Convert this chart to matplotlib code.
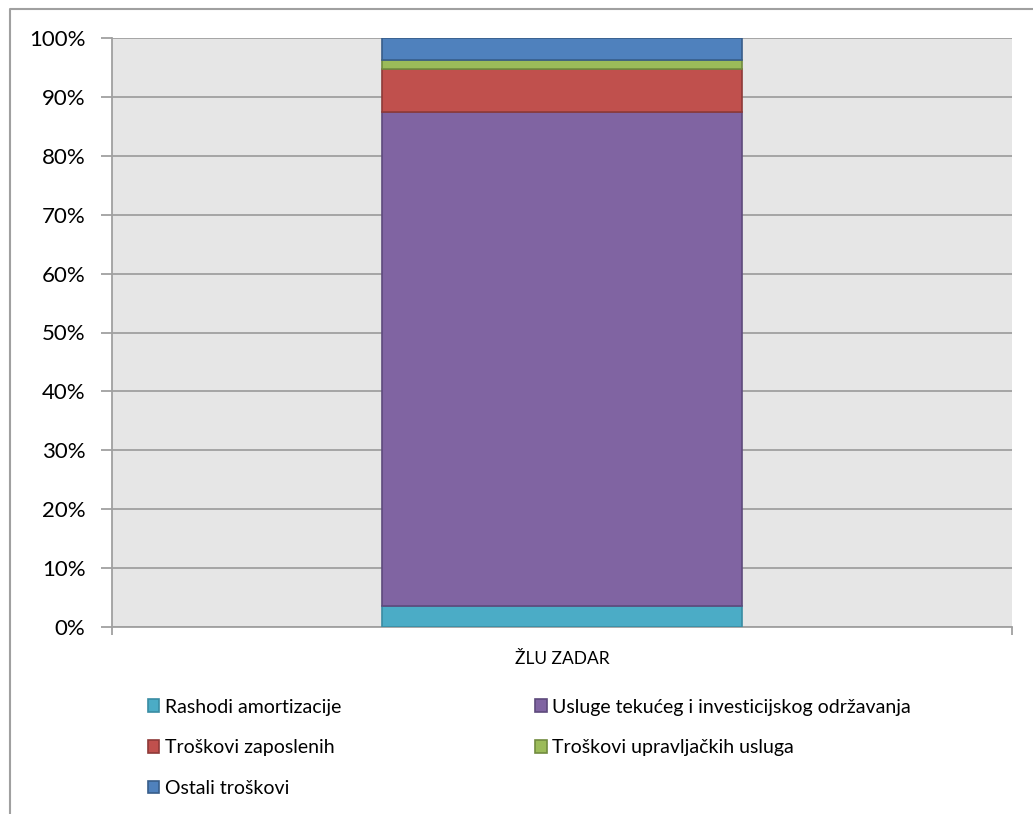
import numpy as np
import matplotlib
matplotlib.use("Agg")
import matplotlib.pyplot as plt
from matplotlib.lines import Line2D
from matplotlib.ticker import FuncFormatter

plt.rcParams['font.family'] = ['Lato', 'DejaVu Sans']

# data (share of total, %)
category = ["ŽLU ZADAR"]
series_names = ["Rashodi amortizacije",
                "Usluge tekućeg i investicijskog održavanja",
                "Troškovi zaposlenih",
                "Troškovi upravljačkih usluga",
                "Ostali troškovi"]
series_values = [3.6, 83.8, 7.4, 1.5, 3.7]
colors = ["#4BACC6", "#8064A2", "#C0504D", "#9BBB59", "#4F81BD"]
edges = ["#3A8CA3", "#5E4A7C", "#8E3A38", "#718B3F", "#385D8A"]

W, H = 1033, 814
fig = plt.figure(figsize=(W / 100, H / 100), dpi=100)
ax = fig.add_axes([112/W, 1-627/H, 900/W, 589/H])
ax.set_facecolor("#E6E6E6")

# chart border (left and top edges only visible)
fig.lines.append(Line2D([10/W, 10/W, 1.0], [0.0, 1-9/H, 1-9/H], transform=fig.transFigure,
                        color="#A0A0A0", linewidth=1.5))

x = np.arange(len(category))
bottom = np.zeros(len(category))
handles = []
for name, val, c, e in zip(series_names, series_values, colors, edges):
    b = ax.bar(x, [val], width=0.4, bottom=bottom, color=c, edgecolor=e,
               linewidth=1.2, label=name, zorder=3)
    handles.append(b)
    bottom += val

ax.set_xlim(-0.5, 0.5)
ax.set_ylim(0, 100)
ax.set_yticks(np.arange(0, 101, 10))
ax.yaxis.set_major_formatter(FuncFormatter(lambda v, p: f"{int(v)}%"))
ax.grid(axis="y", color="#A0A0A0", linewidth=1.3, zorder=1)
ax.set_axisbelow(True)

ax.set_xticks(x)
ax.set_xticklabels(category, fontsize=12.5)
ax.set_xticks([-0.5, 0.5], minor=True)
ax.tick_params(axis="x", which="major", length=0, pad=17)
ax.tick_params(axis="x", which="minor", length=6, color="#A0A0A0", width=1.3)
ax.tick_params(axis="y", length=8, color="#A0A0A0", width=1.3, labelsize=16, pad=11)

for s in ["top", "right"]:
    ax.spines[s].set_visible(False)
for s in ["left", "bottom"]:
    ax.spines[s].set_color("#A0A0A0")
    ax.spines[s].set_linewidth(1.3)

order = [0, 2, 4, 1, 3]
fig.legend([handles[i] for i in order], [series_names[i] for i in order],
           loc="upper left", bbox_to_anchor=(130/W, 1-681/H), ncol=2,
           frameon=False, fontsize=14, handlelength=0.6, handleheight=0.6,
           handletextpad=0.3, columnspacing=9.95, labelspacing=1.22)

fig.savefig("out.png", dpi=100)
